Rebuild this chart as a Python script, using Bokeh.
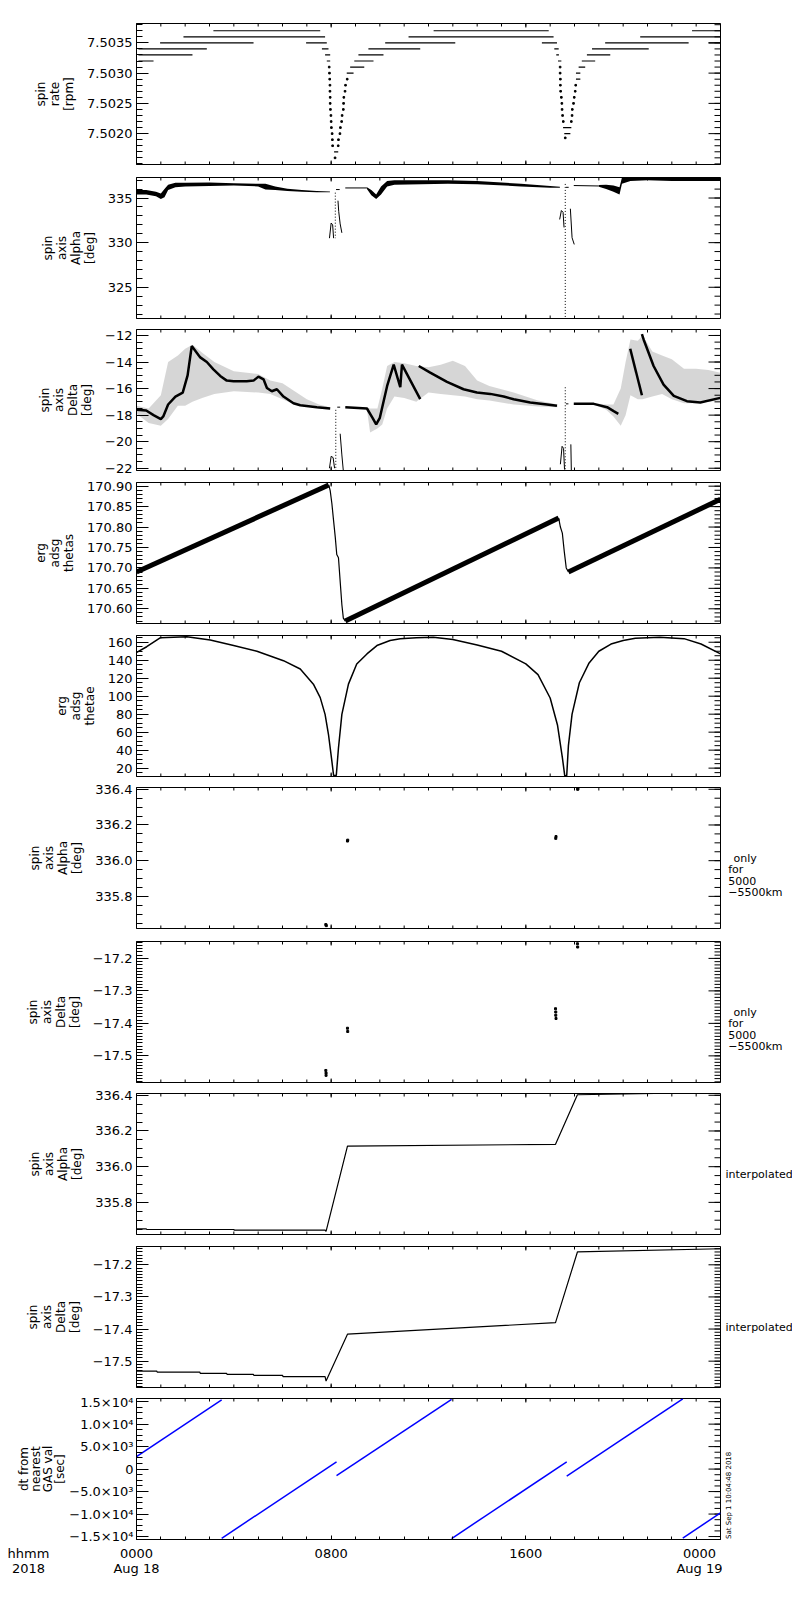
import numpy as np
from bokeh.core.properties import value
from bokeh.plotting import figure
from bokeh.models import Range1d, FixedTicker, LinearAxis
from bokeh.layouts import column, row
from bokeh.embed import file_html
from bokeh.resources import INLINE

FONT = "DejaVu Sans"

# ---------------- x axis (hours of 2018 Aug 18) ----------------
x_major = [0, 8, 16, 24]
x_major_labels = ["0000\nAug 18", "0800", "1600", "0000\nAug 19"]
x_minor = list(range(0, 25))
x_title = "hhmm\n2018"

# ---------------- panel 1: spin rate [rpm] ----------------
rate_seg_h0 = [0.08, 0.08, 0.08, 0.97, 1.93, 3.16, 6.97, 7.62, 7.75, 7.82, 8.12, 8.64, 8.78, 8.95, 9.12, 9.53,
               10.22, 11.18, 12.21, 16.66, 17.17, 17.25, 17.32, 17.53, 17.58, 18.06, 18.06, 18.17, 18.30, 18.51,
               18.72, 19.26, 23.51, 20.70, 22.83]
rate_seg_h1 = [0.70, 2.30, 2.89, 4.81, 7.75, 7.55, 7.82, 7.89, 7.96, 7.96, 8.29, 8.92, 9.36, 9.74, 10.15, 11.66,
               13.10, 17.14, 16.94, 17.28, 17.35, 17.36, 17.46, 17.87, 17.83, 18.24, 18.24, 18.44, 18.85, 19.47,
               21.05, 22.69, 24.00, 24.00, 24.00]
rate_seg_lvl = [7.5032, 7.5033, 7.5034, 7.5035, 7.5036, 7.5037, 7.5035, 7.5034, 7.5033, 7.5032, 7.5017, 7.5030,
                7.5031, 7.5032, 7.5033, 7.5034, 7.5035, 7.5036, 7.5037, 7.5035, 7.5034, 7.5033, 7.5032, 7.5021,
                7.5020, 7.5029, 7.5030, 7.5031, 7.5032, 7.5033, 7.5034, 7.5035, 7.5035, 7.5036, 7.5037]
rate_dot_h = [7.92, 7.93, 7.94, 7.95, 7.95, 7.96, 7.96, 7.97, 7.99, 8.00, 8.01, 8.04, 8.05, 8.06, 8.16,
              8.29, 8.30, 8.36, 8.38, 8.43, 8.45, 8.50, 8.51, 8.52, 8.57, 8.59, 8.66,
              17.41, 17.41, 17.42, 17.42, 17.43, 17.46, 17.48, 17.49, 17.51, 17.54, 17.62,
              17.87, 17.90, 17.91, 17.96, 17.99, 18.03, 18.05]
rate_dot_v = [7.5031, 7.5030, 7.5029, 7.5028, 7.5027, 7.5026, 7.5025, 7.5024, 7.5023, 7.5022, 7.5021, 7.5020,
              7.5019, 7.5018, 7.5016,
              7.5018, 7.5019, 7.5020, 7.5021, 7.5022, 7.5023, 7.5024, 7.5025, 7.5026, 7.5027, 7.5028, 7.5029,
              7.5031, 7.5030, 7.5029, 7.5028, 7.5027, 7.5026, 7.5025, 7.5024, 7.5023, 7.5022, 7.50193,
              7.5022, 7.5023, 7.5024, 7.5025, 7.5026, 7.5027, 7.5028]

# ---------------- panel 2: spin axis alpha [deg] ----------------
alpha_band_h = [0.0, 0.4, 0.8, 1.0, 1.15, 1.3, 1.6, 2.0, 3.0, 4.0, 5.0, 5.3, 5.7, 6.2, 6.8, 7.4, 7.95]
alpha_band_lo = [335.4, 335.4, 335.2, 334.9, 335.1, 335.9, 336.2, 336.3, 336.35, 336.4, 336.3, 335.95, 335.9,
                 335.8, 335.7, 335.65, 335.66]
alpha_band_hi = [335.9, 335.9, 335.7, 335.5, 336.0, 336.5, 336.7, 336.7, 336.75, 336.65, 336.6, 336.6, 336.3,
                 336.05, 335.9, 335.8, 335.74]
alpha_band2_h = [9.47, 9.65, 9.85, 10.05, 10.3, 10.6, 12.8, 14.0, 15.8, 17.0, 17.4]
alpha_band2_lo = [336.0, 335.3, 334.9, 335.4, 336.3, 336.5, 336.6, 336.55, 336.3, 336.15, 336.15]
alpha_band2_hi = [336.2, 335.9, 335.4, 336.3, 336.9, 337.0, 337.0, 336.9, 336.6, 336.35, 336.25]
alpha_band3_h = [19.0, 19.3, 19.6, 19.85, 19.95, 20.3, 21.0, 22.0, 23.0, 24.0]
alpha_band3_lo = [336.25, 336.0, 335.7, 335.4, 336.6, 336.9, 337.0, 336.9, 336.9, 336.9]
alpha_band3_hi = [336.45, 336.5, 336.4, 336.2, 337.3, 337.4, 337.4, 337.4, 337.4, 337.4]
alpha_ev_h = [[7.93, 8.0, 8.06, 8.1], [8.28, 8.31, 8.37, 8.44], [8.2, 8.35], [8.58, 9.47],
              [17.39, 17.46, 17.53, 17.57], [17.83, 17.90, 17.99], [17.65, 17.76], [17.97, 19.0]]
alpha_ev_v = [[330.5, 332.2, 332.0, 330.5], [334.7, 333.5, 332.1, 331.1], [335.95, 335.95], [336.13, 336.13],
              [332.6, 333.6, 333.4, 331.7], [333.8, 330.55, 329.8], [336.2, 336.2], [336.4, 336.35]]
alpha_dot_h = [[8.17, 8.17], [17.62, 17.62]]
alpha_dot_v = [[335.6, 330.5], [336.58, 321.5]]

# ---------------- panel 3: spin axis delta [deg] ----------------
delta_cloud_h = [0.0, 0.5, 1.0, 1.3, 1.7, 2.0, 2.3, 2.7, 3.2, 4.0, 5.0, 5.5, 6.0, 6.5, 7.0, 7.5, 7.95]
delta_cloud_lo = [-17.9, -18.6, -18.8, -18.3, -17.3, -17.3, -17.0, -16.7, -16.4, -16.2, -16.3, -16.4, -16.8,
                  -17.2, -17.3, -17.5, -17.6]
delta_cloud_hi = [-17.3, -17.5, -16.5, -14.0, -13.5, -13.0, -12.7, -13.3, -14.0, -14.7, -14.9, -15.4, -15.6,
                  -16.2, -16.8, -17.2, -17.4]
delta_trend_h = [0.0, 0.4, 0.7, 1.0, 1.1, 1.3, 1.6, 1.9, 2.1, 2.27, 2.62, 2.89, 3.16, 3.44, 3.71, 3.99, 4.53,
                 4.81, 5.01, 5.22, 5.36, 5.56, 5.77, 6.04, 6.45, 6.73, 7.41, 7.96]
delta_trend_v = [-17.6, -17.65, -18.0, -18.3, -18.1, -17.2, -16.6, -16.3, -15.0, -12.8, -13.65, -14.0, -14.55,
                 -15.05, -15.4, -15.45, -15.45, -15.4, -15.1, -15.3, -15.95, -16.2, -16.05, -16.6, -17.1,
                 -17.25, -17.4, -17.5]
delta_cloud2_h = [9.47, 9.6, 9.9, 10.1, 10.3, 10.6, 11.0, 11.5, 12.0, 12.5, 13.0, 13.5, 14.0, 14.5, 15.5, 16.5,
                  17.3]
delta_cloud2_lo = [-17.6, -19.3, -19.0, -18.7, -17.5, -16.6, -16.7, -17.0, -16.3, -16.4, -16.5, -16.6, -16.8,
                   -16.9, -17.2, -17.35, -17.4]
delta_cloud2_hi = [-17.4, -17.5, -17.5, -16.0, -14.3, -14.0, -14.1, -14.3, -14.4, -14.2, -13.9, -14.3, -15.4,
                   -15.8, -16.3, -16.9, -17.2]
delta_trend2_h = [8.58, 9.47, 9.7, 9.85, 10.0, 10.3, 10.57, 10.84, 10.91, 11.66]
delta_trend2_v = [-17.4, -17.5, -18.2, -18.7, -18.2, -15.8, -14.2, -15.9, -14.2, -16.8]
delta_trend3_h = [11.6, 12.07, 12.76, 13.44, 13.99, 14.54, 15.09, 15.5, 16.18, 16.87, 17.28]
delta_trend3_v = [-14.3, -14.8, -15.5, -16.05, -16.3, -16.4, -16.6, -16.8, -17.05, -17.2, -17.3]
delta_cloud3_h = [18.8, 19.3, 19.6, 19.9, 20.1, 20.3, 20.6, 20.8, 21.2, 21.6, 22.0, 22.5, 23.0, 23.5, 24.0]
delta_cloud3_lo = [-17.2, -17.6, -18.1, -18.8, -18.0, -16.5, -16.8, -16.8, -16.6, -16.4, -16.8, -17.1, -17.1,
                   -17.0, -16.9]
delta_cloud3_hi = [-17.1, -17.2, -17.2, -16.0, -14.0, -12.3, -12.4, -12.0, -13.2, -13.5, -13.8, -14.5, -14.5,
                   -14.6, -14.8]
delta_trend4_h = [17.97, 18.79, 19.34, 19.61, 19.8]
delta_trend4_v = [-17.15, -17.15, -17.4, -17.7, -17.9]
delta_trend5_h = [20.29, 20.77]
delta_trend5_v = [-13.0, -16.5]
delta_trend6_h = [20.77, 20.84, 21.25, 21.66, 22.08, 22.62, 23.17, 23.99]
delta_trend6_v = [-11.9, -12.3, -14.3, -15.7, -16.55, -16.95, -17.05, -16.7]
delta_ev_h = [[7.93, 8.0, 8.08, 8.14], [8.37, 8.44, 8.5], [8.25, 8.37],
              [17.42, 17.49, 17.55, 17.59], [17.85, 17.87], [17.65, 17.75]]
delta_ev_v = [[-22.0, -21.1, -21.2, -22.0], [-19.4, -21.0, -22.2], [-17.4, -17.4],
              [-21.7, -20.35, -20.5, -22.1], [-20.2, -22.2], [-17.15, -17.15]]
delta_dot_h = [[8.19, 8.19], [17.62, 17.62]]
delta_dot_v = [[-17.6, -22.2], [-15.9, -22.2]]

# ---------------- panel 4: erg adsg thetas ----------------
thetas_band_h = [[0.0, 7.90], [8.58, 17.35], [17.75, 24.0]]
thetas_band_v = [[170.690, 170.903], [170.570, 170.822], [170.690, 170.868]]
thetas_drop_h = [[7.90, 7.96, 8.03, 8.10, 8.17, 8.23, 8.30, 8.37, 8.44, 8.50, 8.58],
                 [17.35, 17.42, 17.50, 17.58, 17.66, 17.75]]
thetas_drop_v = [[170.903, 170.889, 170.857, 170.815, 170.774, 170.733, 170.725, 170.667, 170.610, 170.577, 170.570],
                 [170.822, 170.800, 170.785, 170.740, 170.700, 170.690]]

# ---------------- panel 5: erg adsg thetae ----------------
thetae_h = [0.01, 0.42, 0.97, 1.52, 2.07, 3.03, 3.99, 4.95, 6.04, 6.73, 7.27, 7.55, 7.75, 7.89, 8.03, 8.10,
            8.21, 8.30, 8.44, 8.71, 9.05, 9.47, 9.88, 10.42, 10.84, 11.5, 12.2, 13.0, 14.0, 15.0, 16.0, 16.5,
            17.0, 17.3, 17.5, 17.6, 17.68, 17.75, 17.9, 18.2, 18.6, 19.0, 19.5, 20.0, 20.5, 21.5, 22.5, 23.2,
            24.0]
thetae_v = [148.8, 155.0, 164.9, 165.5, 166.0, 162.6, 156.3, 150.0, 139.5, 130.2, 113.4, 98.4, 79.8, 57.4, 27.5,
            11.8, 11.8, 42.4, 79.8, 113.4, 135.8, 147.0, 156.3, 161.9, 163.8, 165.0, 165.5, 163.0, 157.0, 150.0,
            136.0, 124.0, 98.0, 68.0, 32.0, 11.5, 11.5, 45.0, 80.0, 115.0, 137.0, 150.0, 158.0, 162.0, 164.5,
            165.5, 164.0, 158.0, 147.0]

# ---------------- panels 6/7: values only for 5000-5500 km ----------------
alpha_only_h = [7.78, 7.80, 8.67, 8.68, 17.23, 17.24, 18.13, 18.14]
alpha_only_v = [335.642, 335.636, 336.110, 336.115, 336.125, 336.135, 336.400, 336.403]
delta_only_h = [7.78, 7.79, 7.79, 8.67, 8.68, 17.22, 17.23, 17.23, 17.24, 18.12, 18.13]
delta_only_v = [-17.545, -17.553, -17.560, -17.415, -17.425, -17.355, -17.365, -17.375, -17.385, -17.155, -17.165]
only_note = ["only", "for", "5000", "\u22125500km"]

# ---------------- panels 8/9: interpolated ----------------
alpha_int_h = [0.0, 0.4, 0.42, 4.0, 4.02, 7.75, 7.79, 8.67, 17.22, 18.12, 21.3, 24.0]
alpha_int_v = [335.652, 335.652, 335.648, 335.648, 335.645, 335.645, 335.637, 336.115, 336.125, 336.403, 336.41,
               336.43]
delta_int_h = [0.0, 0.83, 0.85, 2.6, 2.62, 3.7, 3.72, 4.8, 4.82, 6.0, 6.02, 7.75, 7.79, 8.67, 17.22, 18.12, 24.0]
delta_int_v = [-17.531, -17.531, -17.534, -17.534, -17.538, -17.538, -17.541, -17.541, -17.544, -17.544, -17.548,
               -17.548, -17.562, -17.416, -17.380, -17.160, -17.150]
int_note = "interpolated"

# ---------------- panel 10: dt from nearest GAS value [sec] ----------------
dt_h0 = [0.0, 3.50, 8.22, 12.95, 17.68, 22.45]
dt_v0 = [2770, -15400, -1480, -15440, -1580, -15330]
dt_h1 = [3.50, 8.22, 12.95, 17.68, 22.45, 24.0]
dt_v1 = [15370, 1620, 15480, 1580, 15590, -9760]
dt_title = ["dt from", "nearest", "GAS val", "[sec]"]
stamp = "Sat Sep  1 10:04:48 2018"

# ---------------- axes definitions ----------------
panels = [
    dict(ylim=(7.50149, 7.50382), yt=[7.5020, 7.5025, 7.5030, 7.5035],
         yl=["7.5020", "7.5025", "7.5030", "7.5035"],
         ym=[round(7.5015 + 0.0001 * i, 4) for i in range(24)], label="spin\nrate\n[rpm]", top=23, bottom=6),
    dict(ylim=(321.5, 337.3), yt=[325, 330, 335], yl=["325", "330", "335"],
         ym=list(range(322, 338)), label="spin\naxis\nAlpha\n[deg]", top=7, bottom=5),
    dict(ylim=(-22.17, -11.55), yt=[-22, -20, -18, -16, -14, -12],
         yl=["\u221222", "\u221220", "\u221218", "\u221216", "\u221214", "\u221212"],
         ym=[-22 + 0.5 * i for i in range(21)], label="spin\naxis\nDelta\n[deg]", top=6, bottom=6),
    dict(ylim=(170.564, 170.909), yt=[170.60, 170.65, 170.70, 170.75, 170.80, 170.85, 170.90],
         yl=["170.60", "170.65", "170.70", "170.75", "170.80", "170.85", "170.90"],
         ym=[round(170.57 + 0.01 * i, 2) for i in range(34)], label="erg\nadsg\nthetas", top=6, bottom=6),
    dict(ylim=(10.7, 167.5), yt=[20, 40, 60, 80, 100, 120, 140, 160],
         yl=["20", "40", "60", "80", "100", "120", "140", "160"],
         ym=list(range(15, 170, 5)), label="erg\nadsg\nthetae", top=6, bottom=6),
    dict(ylim=(335.62, 336.41), yt=[335.8, 336.0, 336.2, 336.4], yl=["335.8", "336.0", "336.2", "336.4"],
         ym=[round(335.65 + 0.05 * i, 2) for i in range(16)], label="spin\naxis\nAlpha\n[deg]", top=5, bottom=7),
    dict(ylim=(-17.582, -17.148), yt=[-17.5, -17.4, -17.3, -17.2],
         yl=["\u221217.5", "\u221217.4", "\u221217.3", "\u221217.2"],
         ym=[round(-17.58 + 0.01 * i, 2) for i in range(44)], label="spin\naxis\nDelta\n[deg]", top=6, bottom=6),
    dict(ylim=(335.62, 336.41), yt=[335.8, 336.0, 336.2, 336.4], yl=["335.8", "336.0", "336.2", "336.4"],
         ym=[round(335.65 + 0.05 * i, 2) for i in range(16)], label="spin\naxis\nAlpha\n[deg]", top=5, bottom=7),
    dict(ylim=(-17.582, -17.143), yt=[-17.5, -17.4, -17.3, -17.2],
         yl=["\u221217.5", "\u221217.4", "\u221217.3", "\u221217.2"],
         ym=[round(-17.58 + 0.01 * i, 2) for i in range(44)], label="spin\naxis\nDelta\n[deg]", top=5, bottom=7),
    dict(ylim=(-15660, 15700), yt=[-15000, -10000, -5000, 0, 5000, 10000, 15000],
         yl=["\u22121.5\u00d710\u2074", "\u22121.0\u00d710\u2074", "\u22125.0\u00d710\u00b3", "0",
             "5.0\u00d710\u00b3", "1.0\u00d710\u2074", "1.5\u00d710\u2074"],
         ym=[-15000 + 1250 * i for i in range(25)], label=None, top=4, bottom=40),
]

FRAME_W = 584
FRAME_H = 141
LEFT_B = 136
RIGHT_B = 2
STRIP_W = 70
LSTRIP_W = 66
BLACK = "black"


def bottom_axis(ticks, overrides, draw_ticks):
    ax = LinearAxis(ticker=FixedTicker(ticks=ticks, minor_ticks=x_minor if draw_ticks else []),
                    major_label_overrides=overrides)
    ax.major_tick_in = 4 if draw_ticks else 0
    ax.major_tick_out = 0
    ax.minor_tick_in = 3 if draw_ticks else 0
    ax.minor_tick_out = 0
    ax.axis_line_color = BLACK if draw_ticks else None
    ax.major_tick_line_color = BLACK if draw_ticks else None
    ax.minor_tick_line_color = BLACK if draw_ticks else None
    ax.major_label_text_font = FONT
    ax.major_label_text_font_size = "13px"
    ax.major_label_text_color = BLACK
    ax.major_label_text_line_height = 1.0
    ax.major_label_standoff = 6
    return ax


def make_fig(cfg, left_border, last):
    h = cfg["top"] + FRAME_H + cfg["bottom"]
    lo, hi = cfg["ylim"]
    p = figure(width=left_border + FRAME_W + RIGHT_B, height=h, x_range=Range1d(0, 24), y_range=Range1d(lo, hi),
               output_backend="svg", toolbar_location=None, x_axis_location=None, y_axis_location=None,
               min_border_left=left_border, min_border_right=RIGHT_B, min_border_top=cfg["top"],
               min_border_bottom=cfg["bottom"])
    p.grid.visible = False
    p.outline_line_color = BLACK
    p.outline_line_width = 1
    p.background_fill_color = "white"
    p.border_fill_color = "white"

    left = LinearAxis(ticker=FixedTicker(ticks=cfg["yt"], minor_ticks=cfg["ym"]), axis_label=cfg["label"],
                      major_label_overrides={t: s for t, s in zip(cfg["yt"], cfg["yl"])})
    left.major_tick_in = 12
    left.major_tick_out = 0
    left.minor_tick_in = 6
    left.minor_tick_out = 0
    left.axis_line_color = BLACK
    left.major_tick_line_color = BLACK
    left.minor_tick_line_color = BLACK
    left.major_label_text_font = FONT
    left.major_label_text_font_size = "13px"
    left.major_label_text_color = BLACK
    left.major_label_standoff = 3 if last else 4
    left.axis_label_text_font = FONT
    left.axis_label_text_font_size = "12px"
    left.axis_label_text_font_style = "normal"
    left.axis_label_text_color = BLACK
    left.axis_label_standoff = 8
    left.axis_label_text_line_height = 1.0
    p.add_layout(left, "left")

    ux = 24.0 / FRAME_W
    uy = (hi - lo) / FRAME_H
    # inward ticks on the right edge
    ry = list(cfg["yt"]) + list(cfg["ym"])
    rl = [12] * len(cfg["yt"]) + [6] * len(cfg["ym"])
    p.segment(x0=[24 - L * ux for L in rl], y0=ry, x1=[24] * len(ry), y1=ry, line_color=BLACK, line_width=1)
    # inward ticks on the top edge
    tx = list(x_major) + list(x_minor)
    tl = [4] * len(x_major) + [3] * len(x_minor)
    p.segment(x0=tx, y0=[hi] * len(tx), x1=tx, y1=[hi - L * uy for L in tl], line_color=BLACK, line_width=1)
    if last:
        p.add_layout(bottom_axis(x_major, {t: s for t, s in zip(x_major, x_major_labels)}, True), "below")
    else:
        p.segment(x0=tx, y0=[lo] * len(tx), x1=tx, y1=[lo + L * uy for L in tl], line_color=BLACK, line_width=1)
    return p


def make_strip(width, cfg):
    # a text strip whose inner box lines up exactly with the neighbouring plot box (pixel coordinates)
    s = figure(width=width, height=cfg["top"] + FRAME_H + cfg["bottom"], x_range=Range1d(0, width),
               y_range=Range1d(0, FRAME_H), output_backend="svg", toolbar_location=None,
               x_axis_location=None, y_axis_location=None,
               min_border_left=0, min_border_right=0, min_border_top=cfg["top"], min_border_bottom=cfg["bottom"])
    s.grid.visible = False
    s.outline_line_color = None
    s.background_fill_color = "white"
    s.border_fill_color = "white"
    return s


NP = len(panels)
figs = [make_fig(c, (LEFT_B - LSTRIP_W) if i == NP - 1 else LEFT_B, i == NP - 1) for i, c in enumerate(panels)]

# panel 1
p = figs[0]
p.segment(x0=rate_seg_h0, y0=rate_seg_lvl, x1=rate_seg_h1, y1=rate_seg_lvl, line_color=BLACK, line_width=1.2)
p.scatter(rate_dot_h, rate_dot_v, marker="square", size=1.6, color=BLACK)

# panel 2
p = figs[1]
for hh, lo_, hi_ in [(alpha_band_h, alpha_band_lo, alpha_band_hi), (alpha_band2_h, alpha_band2_lo, alpha_band2_hi),
                     (alpha_band3_h, alpha_band3_lo, alpha_band3_hi)]:
    p.varea(x=hh, y1=lo_, y2=hi_, fill_color=BLACK)
p.multi_line(alpha_ev_h, alpha_ev_v, line_color=BLACK, line_width=1)
p.multi_line(alpha_dot_h, alpha_dot_v, line_color=BLACK, line_width=1, line_dash="1 2")

# panel 3
p = figs[2]
for hh, lo_, hi_ in [(delta_cloud_h, delta_cloud_lo, delta_cloud_hi),
                     (delta_cloud2_h, delta_cloud2_lo, delta_cloud2_hi),
                     (delta_cloud3_h, delta_cloud3_lo, delta_cloud3_hi)]:
    p.varea(x=hh, y1=lo_, y2=hi_, fill_color=BLACK, fill_alpha=0.16)
for hh, vv in [(delta_trend_h, delta_trend_v), (delta_trend2_h, delta_trend2_v), (delta_trend3_h, delta_trend3_v),
               (delta_trend4_h, delta_trend4_v), (delta_trend5_h, delta_trend5_v), (delta_trend6_h, delta_trend6_v)]:
    p.line(hh, vv, line_color=BLACK, line_width=2.5)
p.multi_line(delta_ev_h, delta_ev_v, line_color=BLACK, line_width=1)
p.multi_line(delta_dot_h, delta_dot_v, line_color=BLACK, line_width=1, line_dash="1 2")

# panel 4
p = figs[3]
p.multi_line(thetas_band_h, thetas_band_v, line_color=BLACK, line_width=5)
p.multi_line(thetas_drop_h, thetas_drop_v, line_color=BLACK, line_width=1.2)

# panel 5
figs[4].line(thetae_h, thetae_v, line_color=BLACK, line_width=1.5)

# panels 6, 7
figs[5].scatter(alpha_only_h, alpha_only_v, marker="square", size=2, color=BLACK)
figs[6].scatter(delta_only_h, delta_only_v, marker="square", size=2, color=BLACK)

# panels 8, 9
figs[7].line(alpha_int_h, alpha_int_v, line_color=BLACK, line_width=1.2)
figs[8].line(delta_int_h, delta_int_v, line_color=BLACK, line_width=1.2)

# panel 10
figs[9].segment(x0=dt_h0, y0=dt_v0, x1=dt_h1, y1=dt_v1, line_color="#0000ff", line_width=1.5)

# ---------------- text strips beside the boxes ----------------
rows = []
for k, (cfg, f) in enumerate(zip(panels, figs)):
    if k in (5, 6):
        s = make_strip(STRIP_W, cfg)
        s.text(x=[11, 5.7, 5.7, 5.7], y=[FRAME_H - 71 - 11.2 * j for j in range(4)], text=only_note,
               text_font=value(FONT), text_font_size=value("11px"), text_color=BLACK,
               text_align="left", text_baseline="alphabetic")
        rows.append(row(f, s))
    elif k in (7, 8):
        s = make_strip(STRIP_W, cfg)
        s.text(x=[3], y=[FRAME_H - 81], text=[int_note], text_font=value(FONT), text_font_size=value("11px"),
               text_color=BLACK, text_align="left", text_baseline="alphabetic")
        rows.append(row(f, s))
    elif k == NP - 1:
        ls = make_strip(LSTRIP_W, cfg)
        ls.text(x=[23, 35.5, 47.5, 59], y=[FRAME_H / 2] * 4, text=dt_title, angle=np.pi / 2,
                text_font=value(FONT), text_font_size=value("12px"), text_color=BLACK,
                text_align="center", text_baseline="alphabetic")
        ls.add_layout(bottom_axis([28], {28: x_title}, False), "below")
        rs = make_strip(STRIP_W, cfg)
        rs.text(x=[6], y=[0.5], text=[stamp], angle=np.pi / 2, text_font=value(FONT),
                text_font_size=value("7px"), text_color=BLACK, text_align="left", text_baseline="alphabetic")
        rows.append(row(ls, f, rs))
    else:
        rows.append(f)

layout = column(*rows, spacing=0)
open("out.html", "w").write(file_html(layout, INLINE))
